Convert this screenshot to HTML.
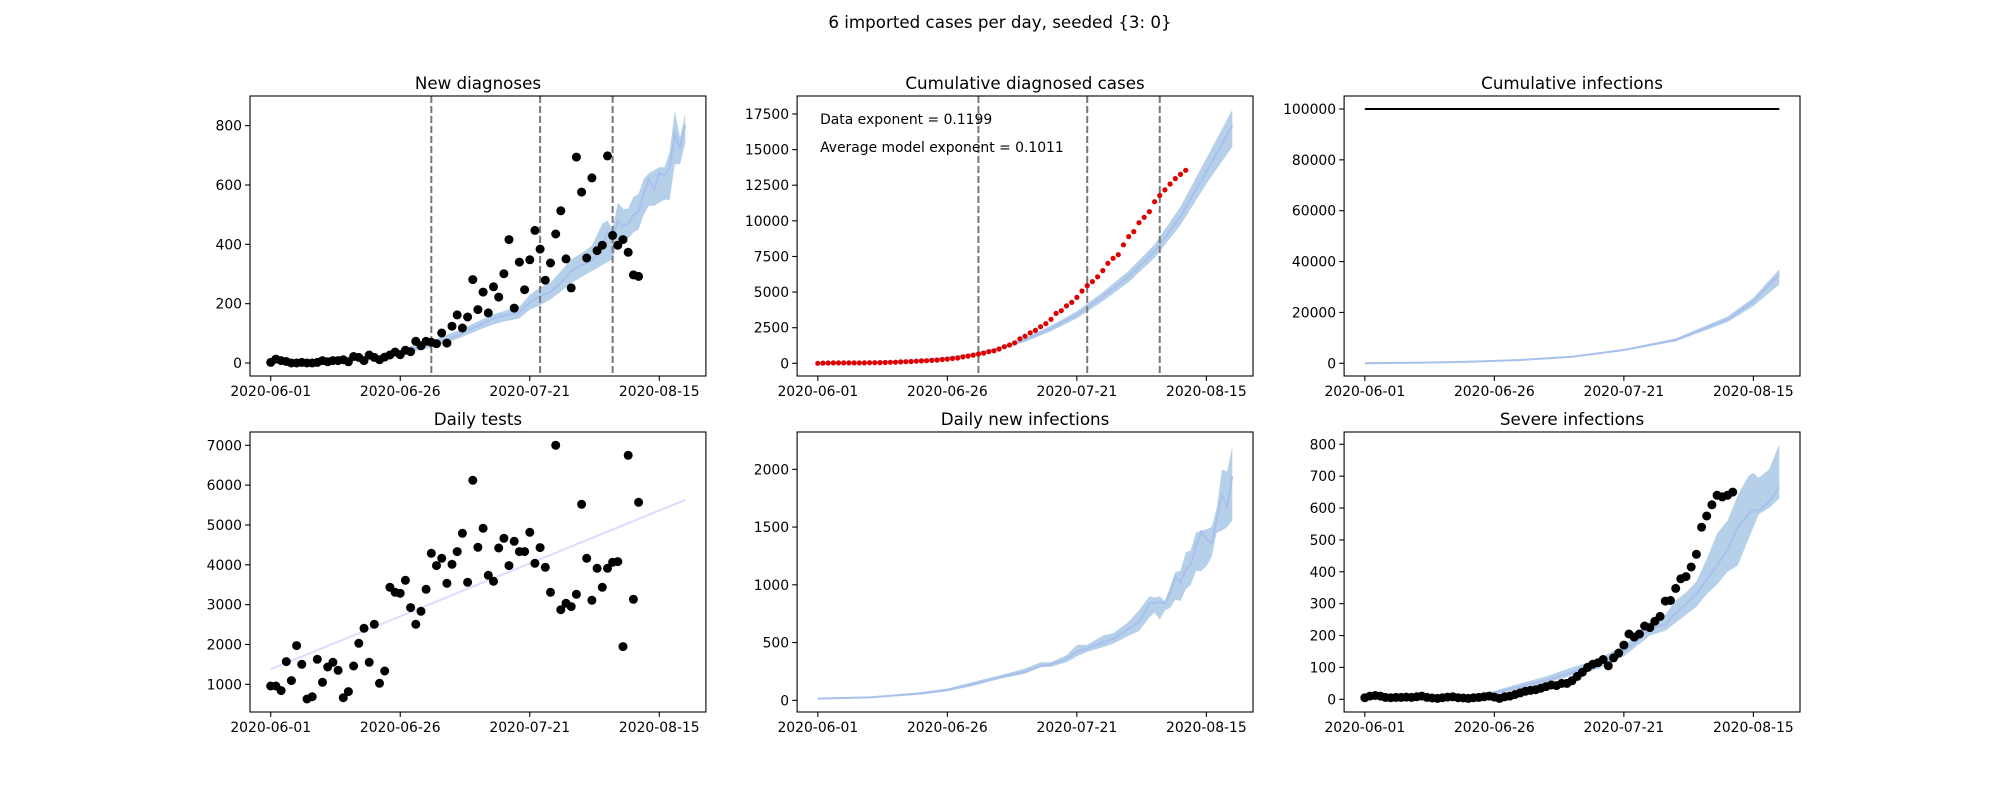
<!DOCTYPE html>
<html><head><meta charset="utf-8"><style>
html,body{margin:0;padding:0;background:#fff;}
svg text{font-family:"DejaVu Sans","Liberation Sans",sans-serif;fill:#000;}
</style></head><body>
<svg id="fig" xmlns="http://www.w3.org/2000/svg" width="2000" height="800" viewBox="0 0 2000 800">
<rect width="2000" height="800" fill="#fff"/>
<text x="1000" y="28" font-size="16.7" text-anchor="middle">6 imported cases per day, seeded {3: 0}</text>
</svg>
<script>
// ---------- data ----------
const xTickLabels = ["2020-06-01","2020-06-26","2020-07-21","2020-08-15"];
const xTickDays = [0,25,50,75];
const interventionDays = [31,52,66];

const newDiagValues = [2,13,8,5,0,0,2,0,0,2,8,4,8,8,11,4,22,19,8,27,19,11,20,27,37,28,43,38,73,58,73,70,65,101,67,124,162,118,155,281,180,239,169,257,222,301,416,185,340,247,348,447,384,279,337,435,513,351,253,694,576,354,624,379,397,698,430,397,416,373,297,292];
const m1Days = [0,5,10,15,20,23,26,29,31,34,37,40,43,45,48,50,52,54,56,58,60,62,64,65,66,67,68,69,70,71,72,73,74,75,76,77,78,79,80];
const m1Med  = [2,4,6,10,15,28,40,55,62,80,100,125,150,160,170,205,225,240,270,310,330,345,390,440,415,480,460,470,500,510,570,620,585,640,630,660,770,725,800];
const m1Lo   = [1,3,5,8,12,22,33,45,52,68,88,110,130,140,150,180,195,215,240,270,290,310,330,340,350,410,400,420,440,450,500,530,530,540,550,550,670,670,740];
const m1Hi   = [3,6,8,13,20,36,50,68,75,95,115,140,165,175,190,230,255,270,310,350,370,395,470,480,450,540,520,520,560,570,620,640,650,660,660,710,850,760,840];

const cumDiagValues = [2,15,23,28,28,28,30,30,30,32,40,44,52,60,71,75,97,116,124,151,170,181,201,228,265,293,336,374,447,505,578,648,713,814,881,1005,1167,1285,1440,1721,1901,2140,2309,2566,2788,3089,3505,3690,4030,4277,4625,5072,5456,5735,6072,6507,7020,7371,7624,8318,8894,9248,9872,10251,10648,11346,11776,12173,12589,12962,13259,13551];
const m2Days = [0,10,20,25,30,35,40,45,50,55,60,65,70,75,80];
const m2Med  = [2,60,230,400,650,1050,1640,2450,3400,4680,6100,7840,10300,13450,16700];
const m2Lo   = [1,50,200,350,580,950,1500,2250,3150,4350,5700,7400,9700,12600,15200];
const m2Hi   = [3,70,260,450,720,1150,1780,2650,3650,5000,6500,8350,11000,14400,17800];

const cumInfCap = 100000;
const m3Days = [0,10,20,30,40,50,60,70,75,80];
const m3Med  = [50,250,600,1300,2600,5240,9170,17300,24250,35000];
const m3Lo   = [40,220,540,1200,2400,4900,8600,16200,22500,31000];
const m3Hi   = [60,280,660,1400,2800,5600,9800,18400,25800,37000];

const testValues = [958,958,841,1569,1092,1971,1502,632,690,1628,1050,1435,1552,1351,665,816,1460,2029,2406,1552,2506,1025,1335,3435,3310,3285,3611,2925,2506,2833,3385,4289,3979,4163,3536,4013,4331,4791,3561,6121,4439,4916,3736,3586,4423,4665,3979,4590,4331,4331,4816,4038,4431,3937,3310,7000,2874,3033,2950,3259,5519,4163,3109,3912,3435,3912,4063,4080,1946,6749,3134,5569];
const trendDays = [0,80];
const trendVals = [1380,5630];

const m5Days = [0,10,20,25,30,35,40,43,45,48,50,52,55,57,60,62,64,65,66,67,68,69,70,71,72,73,74,75,76,77,78,79,80];
const m5Med  = [15,25,60,90,140,200,250,300,310,360,420,450,500,530,620,680,840,840,850,840,930,1070,1020,1130,1180,1330,1460,1400,1360,1560,1780,1680,1940];
const m5Lo   = [12,20,50,78,125,185,230,285,290,330,380,420,460,490,560,600,720,760,700,780,800,870,860,960,1000,1120,1120,1160,1240,1450,1470,1500,1560];
const m5Hi   = [18,30,72,102,160,215,275,330,330,390,480,480,560,580,680,780,900,890,900,860,980,1110,1120,1280,1300,1450,1470,1480,1500,1660,2000,1980,2200];

const severeValues = [5,10,12,10,6,5,6,6,7,6,8,10,6,4,3,5,7,8,5,4,3,5,6,8,10,7,3,8,10,15,20,25,28,30,35,40,45,43,50,50,58,72,85,100,110,115,125,105,130,145,170,205,195,205,230,225,245,260,308,310,348,378,385,415,455,540,575,610,640,635,640,650];
const m6Days = [0,10,20,25,30,35,40,45,50,52,55,58,60,62,64,66,68,70,72,74,75,76,78,80];
const m6Med  = [5,7,10,20,40,60,85,110,150,175,220,235,270,300,330,375,420,470,540,580,595,590,620,665];
const m6Lo   = [3,5,7,14,32,50,75,95,135,160,200,215,240,265,290,330,360,400,420,500,540,580,600,630];
const m6Hi   = [7,10,14,26,50,72,100,125,170,195,245,265,310,335,370,440,520,560,640,700,710,695,720,800];

// ---------- layout ----------
const NS = "http://www.w3.org/2000/svg";
const svg = document.getElementById('fig');
const cols = [[250,705.9],[797.1,1253],[1344.1,1800]];
const rows = [[96,376],[432,712]];
const xMin = -4, xMax = 84;
const BAND = "#b5d0e8", MED = "#a9c0ee";

function mk(tag, attrs, parent){
  const e = document.createElementNS(NS, tag);
  for (const k in attrs) e.setAttribute(k, attrs[k]);
  (parent||svg).appendChild(e);
  return e;
}

function makePanel(name, c, r, yMin, yMax, yTicks, title){
  const [x0,x1] = cols[c], [y0,y1] = rows[r];
  const g = mk('g', {});
  
  
  const sx = d => x0 + (d - xMin) / (xMax - xMin) * (x1 - x0);
  const sy = v => y1 - (v - yMin) / (yMax - yMin) * (y1 - y0);
  const clip = mk('clipPath', {id: 'clip-' + name}, g);
  mk('rect', {x:x0, y:y0, width:x1-x0, height:y1-y0}, clip);
  const plot = mk('g', {'clip-path': 'url(#clip-' + name + ')'}, g);
  
  
  const t = mk('text', {x:(x0+x1)/2, y:y0-7, 'font-size':16.7, 'text-anchor':'middle'}, g);
  
  
  t.textContent = title;
  const xa = mk('g', {}, g);
  
  
  xTickDays.forEach((d, i) => {
    const x = sx(d);
    mk('line', {x1:x, x2:x, y1:y1, y2:y1+4.9, stroke:'#000', 'stroke-width':1.1}, xa);
    const tl = mk('text', {x:x, y:y1+20, 'font-size':13.9, 'text-anchor':'middle'}, xa);
    
    
    tl.textContent = xTickLabels[i];
  });
  const ya = mk('g', {}, g);
  
  
  yTicks.forEach(v => {
    const y = sy(v);
    mk('line', {x1:x0-4.9, x2:x0, y1:y, y2:y, stroke:'#000', 'stroke-width':1.1}, ya);
    const tl = mk('text', {x:x0-8, y:y+5, 'font-size':13.9, 'text-anchor':'end'}, ya);
    
    
    tl.textContent = String(v);
  });
  return {g, plot, sx, sy, x0, x1, y0, y1, frame(){
    const f = mk('rect', {x:x0, y:y0, width:x1-x0, height:y1-y0, fill:'none', stroke:'#000', 'stroke-width':1.1}, g);
    
    
  }};
}

function band(p, days, lo, hi, name){
  let pts = days.map((d,i) => p.sx(d).toFixed(1) + ',' + p.sy(hi[i]).toFixed(1));
  for (let i = days.length - 1; i >= 0; i--) pts.push(p.sx(days[i]).toFixed(1) + ',' + p.sy(lo[i]).toFixed(1));
  const e = mk('polygon', {points: pts.join(' '), fill: BAND, stroke: 'none'}, p.plot);
  
  
}
function line(p, days, vals, color, width, name, dash){
  const pts = days.map((d,i) => p.sx(d).toFixed(1) + ',' + p.sy(vals[i]).toFixed(1)).join(' ');
  const a = {points: pts, fill:'none', stroke: color, 'stroke-width': width};
  if (dash) a['stroke-dasharray'] = dash;
  const e = mk('polyline', a, p.plot);
  
  
}
function dots(p, vals, r, color, name){
  const g = mk('g', {}, p.plot);
  
  
  vals.forEach((v, d) => {
    const c = mk('circle', {cx: p.sx(d).toFixed(1), cy: p.sy(v).toFixed(1), r: r, fill: color}, g);
    
    
  });
}
function vlines(p, name){
  interventionDays.forEach(d => {
    const x = p.sx(d);
    const e = mk('line', {x1:x, x2:x, y1:p.y0, y2:p.y1, stroke:'#777', 'stroke-width':2, 'stroke-dasharray':'7,3'}, p.plot);
    
    
  });
}

// Panel 1
const p1 = makePanel('new-diagnoses', 0, 0, -43.8, 900, [0,200,400,600,800], 'New diagnoses');
band(p1, m1Days, m1Lo, m1Hi, 'model-band');
line(p1, m1Days, m1Med, MED, 2, 'model-median');
vlines(p1, 'intervention-line');
dots(p1, newDiagValues, 4.5, '#000', 'diagnoses-points');
p1.frame();

// Panel 2
const p2 = makePanel('cumulative-diagnosed', 1, 0, -891, 18763, [0,2500,5000,7500,10000,12500,15000,17500], 'Cumulative diagnosed cases');
band(p2, m2Days, m2Lo, m2Hi, 'model-band');
line(p2, m2Days, m2Med, MED, 2, 'model-median');
vlines(p2, 'intervention-line');
dots(p2, cumDiagValues, 2.6, '#e00000', 'cumulative-points');
const a1 = mk('text', {x: p2.x0 + 23, y: 124, 'font-size': 13.9}, p2.g);


a1.textContent = 'Data exponent = 0.1199';
const a2 = mk('text', {x: p2.x0 + 23, y: 152, 'font-size': 13.9}, p2.g);


a2.textContent = 'Average model exponent = 0.1011';
p2.frame();

// Panel 3
const p3 = makePanel('cumulative-infections', 2, 0, -4994, 105110, [0,20000,40000,60000,80000,100000], 'Cumulative infections');
band(p3, m3Days, m3Lo, m3Hi, 'model-band');
line(p3, m3Days, m3Med, MED, 2, 'model-median');
line(p3, [0,80], [cumInfCap, cumInfCap], '#000', 2, 'population-cap-line');
p3.frame();

// Panel 4
const p4 = makePanel('daily-tests', 0, 1, 305, 7334, [1000,2000,3000,4000,5000,6000,7000], 'Daily tests');
line(p4, trendDays, trendVals, '#dcdcff', 2, 'tests-trend-line');
dots(p4, testValues, 4.5, '#000', 'tests-points');
p4.frame();

// Panel 5
const p5 = makePanel('daily-new-infections', 1, 1, -101, 2323, [0,500,1000,1500,2000], 'Daily new infections');
band(p5, m5Days, m5Lo, m5Hi, 'model-band');
line(p5, m5Days, m5Med, MED, 2, 'model-median');
p5.frame();

// Panel 6
const p6 = makePanel('severe-infections', 2, 1, -39.8, 838.5, [0,100,200,300,400,500,600,700,800], 'Severe infections');
band(p6, m6Days, m6Lo, m6Hi, 'model-band');
line(p6, m6Days, m6Med, MED, 2, 'model-median');
dots(p6, severeValues, 4.5, '#000', 'severe-points');
p6.frame();
</script>
</body></html>
